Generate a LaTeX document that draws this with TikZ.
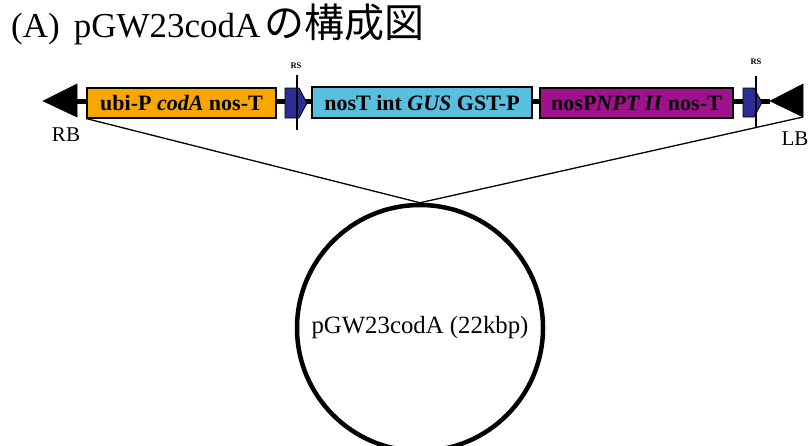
\documentclass[tikz,border=0pt]{standalone}
\usepackage{fontspec}
\setmainfont{Liberation Serif}
\newfontfamily\cjkfont{Noto Sans CJK JP}
\definecolor{orangebox}{RGB}{250,166,0}
\definecolor{cyanbox}{RGB}{88,192,222}
\definecolor{magbox}{RGB}{160,18,140}
\definecolor{rsblue}{RGB}{44,44,150}
\begin{document}
\begin{tikzpicture}[x=1pt,y=-1pt,
  genebox/.style={draw=black,line width=1.2pt,inner sep=0pt,font=\fontsize{22}{22}\selectfont\bfseries},
  rsbox/.style={draw=black,line width=0.8pt,fill=rsblue},
  rsspike/.style={draw=black,line width=1.1pt},
  rslabel/.style={font=\fontsize{8.5}{8.5}\selectfont\bfseries,inner sep=0pt},
  bordertri/.style={fill=black,draw=black,line width=0.5pt},
  backbone/.style={draw=black,line width=5pt},
  link/.style={draw=black,line width=1.3pt},
  endlabel/.style={font=\fontsize{21}{21}\selectfont,inner sep=0pt}]
\clip (0,0) rectangle (811,445);
\fill[white] (0,0) rectangle (811,445);
% title
\node[anchor=base west,inner sep=0pt] (title) at (11,37)
  {\fontsize{35}{35}\selectfont (A)\hspace{14pt}pGW23codA\hspace{4pt}{\cjkfont\fontsize{40}{40}\selectfont の構成図}};
% backbone coordinates
\coordinate (rbtip) at (43,101);
\coordinate (rbtop) at (77,84);
\coordinate (rbbot) at (77,117);
\coordinate (lbtip) at (770,101);
\coordinate (lbtop) at (803,84);
\coordinate (lbbot) at (803,117);
\path[backbone] (77,101) -- (lbtip);
\filldraw[bordertri] (rbtip) -- (rbtop) -- (rbbot) -- cycle;
\filldraw[bordertri] (lbtip) -- (lbtop) -- (lbbot) -- cycle;
% gene boxes
\node[genebox,fill=orangebox,minimum width=189pt,minimum height=30pt] (ubi) at (181.5,103)
  {ubi-P \textit{codA} nos-T};
\node[genebox,fill=cyanbox,minimum width=220pt,minimum height=31pt] (gus) at (422,102.5)
  {nosT int \textit{GUS} GST-P};
\node[genebox,fill=magbox,minimum width=193pt,minimum height=30pt] (npt) at (636.5,103)
  {nosP\textit{NPT II} nos-T};
% RS 1
\path[rsbox] (285,88) -- (299,88) -- (307,103) -- (299,118) -- (285,118) -- cycle;
\coordinate (rs1top) at (297,75);
\coordinate (rs1bot) at (297,130);
\path[rsspike] (rs1top) -- (rs1bot);
\node[rslabel] (rs1) at (296,66) {RS};
% RS 2
\path[rsbox] (743,88) -- (754,88) -- (762,102.5) -- (754,117) -- (743,117) -- cycle;
\coordinate (rs2top) at (756,76);
\coordinate (rs2bot) at (756,127);
\path[rsspike] (rs2top) -- (rs2bot);
\node[rslabel] (rs2) at (756,62) {RS};
% end labels
\node[endlabel] (rb) at (66,135) {RB};
\node[endlabel] (lb) at (795,139) {LB};
% plasmid
\node[circle,draw=black,line width=4.5pt,minimum size=246pt,inner sep=0pt,
  font=\fontsize{24.8}{24.8}\selectfont] (plasmid) at (420,328) {pGW23codA (22kbp)};
\path[link] (ubi.south west) -- (plasmid.north);
\path[link] (lbbot) -- (plasmid.north);
\end{tikzpicture}
\end{document}
